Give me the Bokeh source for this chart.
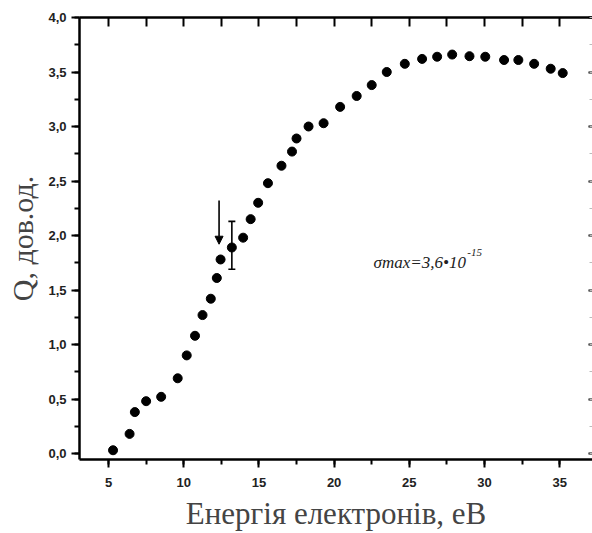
from bokeh.plotting import figure
from bokeh.models import (Range1d, LinearAxis, SingleIntervalTicker, CustomJSTickFormatter,
                          Arrow, NormalHead, Whisker, TeeHead, ColumnDataSource, Label)
from bokeh.embed import file_html
from bokeh.resources import INLINE

# ---- data ----
energy_ev = [5.3, 6.4, 6.75, 7.5, 8.5, 9.6, 10.2, 10.75, 11.25, 11.8, 12.2, 12.45, 13.2,
             13.95, 14.45, 14.95, 15.6, 16.5, 17.2, 17.5, 18.3, 19.3, 20.4, 21.5, 22.5,
             23.5, 24.7, 25.85, 26.85, 27.85, 29.0, 30.05, 31.3, 32.25, 33.3, 34.4, 35.2]
q_values = [0.03, 0.18, 0.38, 0.48, 0.52, 0.69, 0.90, 1.08, 1.27, 1.42, 1.61, 1.78, 1.89,
            1.98, 2.15, 2.30, 2.48, 2.64, 2.77, 2.89, 3.00, 3.03, 3.18, 3.28, 3.38,
            3.50, 3.575, 3.62, 3.64, 3.66, 3.645, 3.64, 3.61, 3.61, 3.575, 3.53, 3.49]

err_energy = [13.2]
err_low = [1.69]
err_high = [2.13]

arrow_energy = 12.35
arrow_q_from = 2.32
arrow_q_to = 1.92

annotation_main = "σmax=3,6•10"
annotation_sup = "-15"

x_label = "Енергія електронів, еВ"
y_label = "Q, дов.од."

TICK_FONT = "Liberation Sans"
LABEL_FONT = "Liberation Serif"

p = figure(width=592, height=533,
           x_range=Range1d(3.07, 37.18), y_range=Range1d(-0.055, 4.0),
           output_backend="svg", toolbar_location=None,
           min_border_left=79, min_border_right=0, min_border_top=17, min_border_bottom=74,
           x_axis_label=x_label, y_axis_label=y_label)
p.grid.visible = False
p.outline_line_color = None
p.background_fill_color = "white"
p.border_fill_color = "white"

blank = CustomJSTickFormatter(code="return '';")

# bottom axis
xa = p.xaxis[0]
xa.ticker = SingleIntervalTicker(interval=5, num_minor_ticks=2)
xa.major_tick_out = 8
xa.major_tick_in = 0
xa.minor_tick_out = 5
xa.minor_tick_in = 0
xa.axis_line_width = 2.5
xa.major_tick_line_width = 2
xa.minor_tick_line_width = 2
xa.major_label_text_font = TICK_FONT
xa.major_label_text_font_style = "bold"
xa.major_label_text_font_size = "13px"
xa.major_label_text_color = "#222222"
xa.major_label_standoff = 10
xa.axis_label_text_font = LABEL_FONT
xa.axis_label_text_font_style = "normal"
xa.axis_label_text_font_size = "31px"
xa.axis_label_standoff = 6

# left axis
ya = p.yaxis[0]
ya.ticker = SingleIntervalTicker(interval=0.5, num_minor_ticks=2)
ya.formatter = CustomJSTickFormatter(code="return tick.toFixed(1).replace('.', ',');")
ya.major_tick_out = 8
ya.major_tick_in = 0
ya.minor_tick_out = 5
ya.minor_tick_in = 0
ya.axis_line_width = 2.5
ya.major_tick_line_width = 2
ya.minor_tick_line_width = 2
ya.major_label_text_font = TICK_FONT
ya.major_label_text_font_style = "bold"
ya.major_label_text_font_size = "13px"
ya.major_label_text_color = "#222222"
ya.major_label_standoff = 5
ya.axis_label_text_font = LABEL_FONT
ya.axis_label_text_font_style = "normal"
ya.axis_label_text_font_size = "30px"
ya.axis_label_standoff = 6

# top axis (ticks inside, no labels)
top = LinearAxis(ticker=SingleIntervalTicker(interval=2.5, num_minor_ticks=0), formatter=blank)
top.major_tick_in = 9
top.major_tick_out = 0
top.minor_tick_line_color = None
top.axis_line_width = 2.5
top.major_tick_line_width = 2
top.major_label_text_font_size = "1px"
top.major_label_standoff = 0
p.add_layout(top, "above")

# right axis (ticks inside, axis line out of view)
right = LinearAxis(ticker=SingleIntervalTicker(interval=0.5, num_minor_ticks=2), formatter=blank)
right.major_tick_in = 4
right.major_tick_out = 0
right.minor_tick_in = 3
right.minor_tick_out = 0
right.minor_tick_line_color = "#bbbbbb"
right.axis_line_color = None
right.major_tick_line_width = 2
right.major_label_text_font_size = "1px"
right.major_label_standoff = 0
p.add_layout(right, "right")

# data points
p.scatter(energy_ev, q_values, size=9, color="black")

# error bar
err_src = ColumnDataSource(dict(base=err_energy, lower=err_low, upper=err_high))
p.add_layout(Whisker(source=err_src, base="base", lower="lower", upper="upper",
                     dimension="height", line_width=1.6, line_color="black",
                     upper_head=TeeHead(size=7, line_width=1.6, line_color="black"),
                     lower_head=TeeHead(size=7, line_width=1.6, line_color="black")))

# arrow
p.add_layout(Arrow(x_start=arrow_energy, y_start=arrow_q_from,
                   x_end=arrow_energy, y_end=arrow_q_to, line_width=1.6, line_color="black",
                   end=NormalHead(size=8, fill_color="black", line_color="black")))

# annotation
p.add_layout(Label(x=22.62, y=1.75, text=annotation_main, text_font=LABEL_FONT,
                   text_font_style="italic", text_font_size="17px", text_color="#222222",
                   text_baseline="alphabetic", text_align="left"))
p.add_layout(Label(x=28.85, y=1.84, text=annotation_sup, text_font=LABEL_FONT,
                   text_font_style="italic", text_font_size="11px", text_color="#222222",
                   text_baseline="alphabetic", text_align="left"))

open("out.html", "w").write(file_html(p, INLINE))
